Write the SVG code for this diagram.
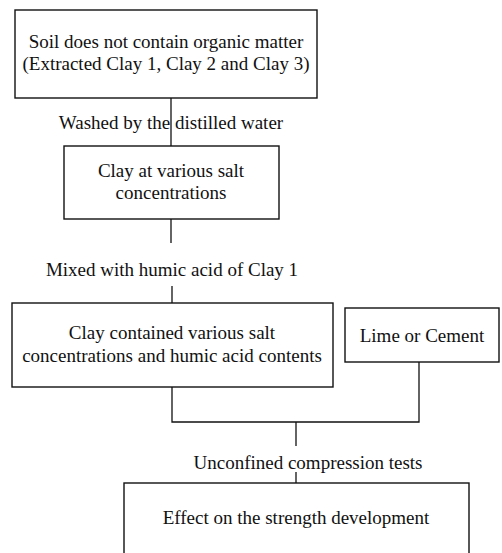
<svg xmlns="http://www.w3.org/2000/svg" width="502" height="553" viewBox="0 0 502 553">
<style>
.box{fill:#fff;stroke:#111;stroke-width:1.4}
.ln{fill:none;stroke:#111;stroke-width:1.3}
text{font-family:'Liberation Serif','Times New Roman',serif;font-size:19px;fill:#111;text-anchor:middle}
</style>
<rect width="502" height="553" fill="#fff"/>
<g id="connectors">
<path class="ln" d="M171,98 V146"/>
<path class="ln" d="M171,219 V243"/>
<path class="ln" d="M172,286 V303"/>
<path class="ln" d="M172,387 V422 H419 V362"/>
<path class="ln" d="M296,422 V446"/>
<path class="ln" d="M296,472 V483"/>
<text x="171" y="129">Washed by the distilled water</text>
<text x="172" y="276">Mixed with humic acid of Clay 1</text>
<text x="308" y="469">Unconfined compression tests</text>
</g>
<g id="n1">
<rect class="box" x="15" y="10" width="302" height="88"/>
<text x="166" y="48">Soil does not contain organic matter</text>
<text x="166" y="70">(Extracted Clay 1, Clay 2 and Clay 3)</text>
</g>
<g id="n2">
<rect class="box" x="64" y="146" width="215" height="73"/>
<text x="171" y="177">Clay at various salt</text>
<text x="171" y="199">concentrations</text>
</g>
<g id="n3">
<rect class="box" x="12" y="303" width="321" height="84"/>
<text x="172" y="339">Clay contained various salt</text>
<text x="172" y="362">concentrations and humic acid contents</text>
</g>
<g id="n4">
<rect class="box" x="345" y="308" width="154" height="54"/>
<text x="422" y="342">Lime or Cement</text>
</g>
<g id="n5">
<rect class="box" x="124" y="483" width="345" height="90"/>
<text x="296" y="524">Effect on the strength development</text>
</g>
</svg>
